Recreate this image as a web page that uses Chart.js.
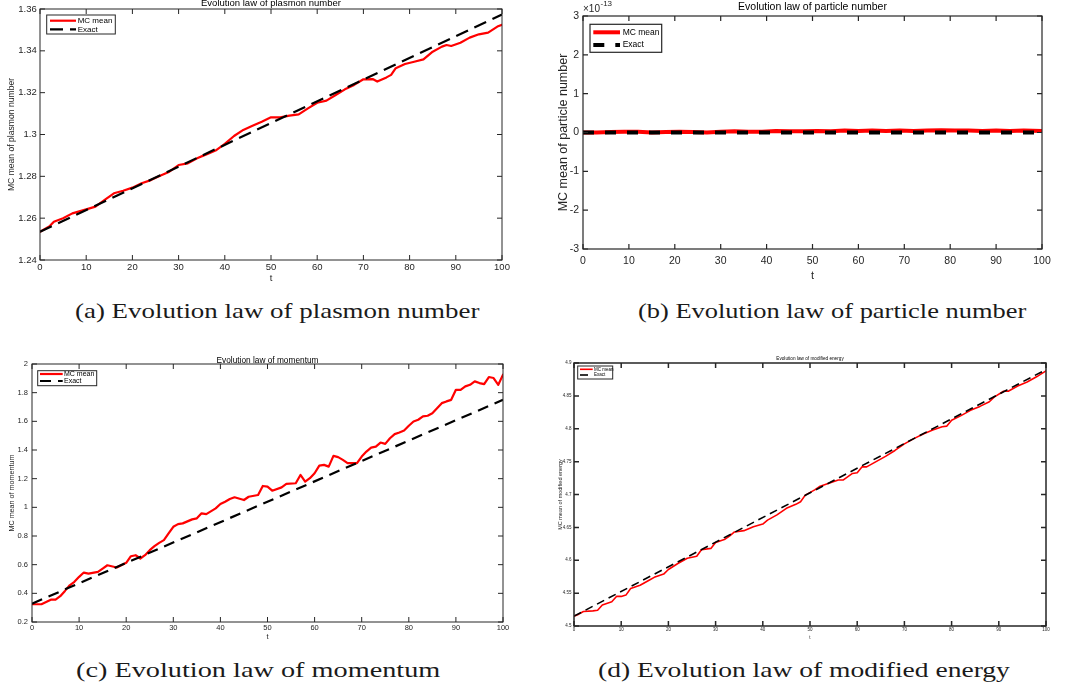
<!DOCTYPE html>
<html><head><meta charset="utf-8">
<script src="https://cdn.jsdelivr.net/npm/chart.js@4.4.1/dist/chart.umd.min.js"></script>
<style>
html,body{margin:0;padding:0;background:#fff;width:1072px;height:691px;overflow:hidden;position:relative}
canvas{position:absolute}
.cap{position:absolute;white-space:nowrap;font-family:'Liberation Serif','DejaVu Serif',serif;font-size:22px;line-height:22px;color:#1a1a1a;transform-origin:0 50%}
</style></head><body>
<canvas id="ca" width="530" height="290" style="left:0px;top:0px"></canvas>
<canvas id="cb" width="542" height="290" style="left:530px;top:0px"></canvas>
<canvas id="cc" width="530" height="315" style="left:0px;top:330px"></canvas>
<canvas id="cd" width="542" height="315" style="left:530px;top:330px"></canvas>
<div class="cap" id="capA">(a) Evolution law of plasmon number</div>
<div class="cap" id="capB">(b) Evolution law of particle number</div>
<div class="cap" id="capC">(c) Evolution law of momentum</div>
<div class="cap" id="capD">(d) Evolution law of modified energy</div>
<script>
// ---------------- data ----------------
const xTicks = [0,10,20,30,40,50,60,70,80,90,100];

const plasmonT  = [0,2,3,5,7,10,12,14,16,18,20,22,24,26,28,30,32,34,36,38,40,42,44,46,48,50,52,54,56,58,60,62,64,66,68,70,72,73,75,76,77,79,81,83,85,87,88,89,91,93,95,97,99,100];
const plasmonMC = [1.2535,1.2560,1.2583,1.2600,1.2623,1.2642,1.2655,1.2687,1.2719,1.2731,1.2746,1.2767,1.2782,1.2803,1.2822,1.2854,1.2862,1.2886,1.2905,1.2923,1.2955,1.2993,1.3022,1.3042,1.3061,1.3082,1.3082,1.3090,1.3096,1.3125,1.3152,1.3162,1.3189,1.3216,1.3237,1.3264,1.3265,1.3253,1.3273,1.3285,1.3317,1.3337,1.3348,1.3359,1.3396,1.3420,1.3428,1.3423,1.3439,1.3463,1.3479,1.3487,1.3516,1.3524];
const plasmonExactT = [0,100];
const plasmonExact  = [1.2535,1.3574];
const plasmonYTicks = [1.24,1.26,1.28,1.3,1.32,1.34,1.36];

// particle number values are in units of 1e-13 (axis shows x10^-13)
const particleT  = [0,3,6,9,12,15,18,21,24,27,30,33,36,39,42,45,48,51,54,57,60,63,66,69,72,75,78,81,84,87,90,93,96,100];
const particleMC = [0.00,0.00,0.01,0.02,0.02,0.00,0.01,0.02,0.01,0.00,0.02,0.03,0.02,0.02,0.04,0.03,0.03,0.04,0.03,0.05,0.04,0.05,0.04,0.05,0.04,0.05,0.06,0.05,0.05,0.04,0.05,0.04,0.05,0.04];
const particleExactT = [0,100];
const particleExact  = [0,0];
const particleYTicks = [-3,-2,-1,0,1,2,3];

const momT  = [0,2,3,4,5,6,7,8,9,10,11,12,14,15,16,18,20,21,22,23,24,25,26,27,28,29,30,31,32,34,35,36,37,39,40,41,42,43,45,46,48,49,50,51,53,54,56,57,58,59,60,61,62,63,64,65,66,67,69,70,71,72,73,74,75,76,77,78,79,80,81,82,83,84,85,86,87,88,89,90,91,92,93,94,95,96,97,98,99,100];
const momMC = [0.324,0.324,0.34,0.356,0.356,0.38,0.417,0.456,0.48,0.515,0.545,0.538,0.55,0.573,0.596,0.58,0.613,0.659,0.666,0.643,0.666,0.701,0.729,0.752,0.771,0.818,0.864,0.883,0.888,0.916,0.923,0.958,0.953,0.993,1.023,1.039,1.058,1.07,1.051,1.074,1.086,1.149,1.144,1.116,1.139,1.163,1.168,1.226,1.179,1.203,1.238,1.291,1.296,1.284,1.359,1.35,1.331,1.308,1.308,1.354,1.389,1.417,1.424,1.452,1.443,1.482,1.511,1.522,1.536,1.569,1.599,1.611,1.634,1.639,1.657,1.692,1.727,1.739,1.75,1.82,1.82,1.844,1.855,1.879,1.867,1.86,1.909,1.902,1.855,1.925];
const momExactT = [0,100];
const momExact  = [0.328,1.750];
const momYTicks = [0.2,0.4,0.6,0.8,1,1.2,1.4,1.6,1.8,2];

const enT  = [0,1,2,4,5,6,8,9,10,11,12,14,16,17,19,20,22,24,26,27,29,30,32,33,34,36,38,40,41,43,45,47,48,49,51,52,54,56,57,59,60,61,62,64,66,68,70,72,74,76,78,79,80,82,84,86,88,89,91,92,94,96,98,100];
const enMC = [4.515,4.518,4.522,4.523,4.524,4.532,4.537,4.545,4.545,4.547,4.557,4.562,4.57,4.574,4.579,4.586,4.595,4.603,4.606,4.616,4.618,4.627,4.632,4.637,4.643,4.645,4.651,4.655,4.661,4.669,4.679,4.685,4.689,4.699,4.707,4.712,4.717,4.722,4.722,4.732,4.733,4.742,4.742,4.75,4.758,4.767,4.777,4.785,4.792,4.798,4.803,4.804,4.813,4.82,4.828,4.834,4.841,4.848,4.857,4.857,4.865,4.871,4.879,4.888];
const enExactT = [0,100];
const enExact  = [4.515,4.890];
const enYTicks = [4.5,4.55,4.6,4.65,4.7,4.75,4.8,4.85,4.9];

const seriesLabels = ['MC mean','Exact'];
const titles = ['Evolution law of plasmon number','Evolution law of particle number','Evolution law of momentum','Evolution law of modified energy'];
const yTitles = ['MC mean of plasmon number','MC mean of particle number','MC mean of momentum','MC mean of modified energy'];

// ---------------- helpers ----------------
const FONT = "'Liberation Sans', Arial, Helvetica, sans-serif";
const INK = '#262626';
const pts = (t, v) => t.map((x, i) => ({x: x, y: v[i]}));
const fmt = v => String(+(+v).toFixed(6));

const matlabAxes = {
  id: 'matlabAxes',
  afterDraw(chart, args, o) {
    const {ctx, chartArea: a, scales: {x, y}} = chart;
    ctx.save();
    ctx.strokeStyle = INK; ctx.lineWidth = o.lw; ctx.setLineDash([]);
    ctx.beginPath();
    x.ticks.forEach(t => { const p = x.getPixelForValue(t.value);
      ctx.moveTo(p, a.bottom); ctx.lineTo(p, a.bottom - o.len);
      ctx.moveTo(p, a.top); ctx.lineTo(p, a.top + o.len); });
    y.ticks.forEach(t => { const p = y.getPixelForValue(t.value);
      ctx.moveTo(a.left, p); ctx.lineTo(a.left + o.len, p);
      ctx.moveTo(a.right, p); ctx.lineTo(a.right - o.len, p); });
    ctx.stroke();
    ctx.strokeRect(a.left, a.top, a.right - a.left, a.bottom - a.top);
    // title
    ctx.fillStyle = '#000'; ctx.textAlign = 'center'; ctx.textBaseline = 'middle';
    ctx.font = o.titleSize + 'px ' + FONT;
    ctx.fillText(o.title, (a.left + a.right) / 2, a.top - o.titleDy);
    // exponent
    if (o.exp) {
      ctx.fillStyle = INK; ctx.textAlign = 'left';
      ctx.font = o.exp.size + 'px ' + FONT;
      ctx.fillText('\u00d710', a.left + o.exp.dx, o.exp.y);
      const w = ctx.measureText('\u00d710').width;
      ctx.font = o.exp.supSize + 'px ' + FONT;
      ctx.fillText(o.exp.text, a.left + o.exp.dx + w + 0.5, o.exp.supY);
    }
    // legend (boxed, inside top-left)
    const L = o.legend;
    const bx = a.left + L.dx, by = a.top + L.dy;
    ctx.fillStyle = '#fff'; ctx.fillRect(bx, by, L.w, L.h);
    ctx.strokeStyle = INK; ctx.lineWidth = L.frame; ctx.strokeRect(bx, by, L.w, L.h);
    chart.data.datasets.forEach((ds, i) => {
      const ry = by + L.rows[i];
      ctx.beginPath();
      ctx.strokeStyle = ds.borderColor; ctx.lineWidth = ds.borderWidth;
      ctx.setLineDash(ds.borderDash || []);
      ctx.moveTo(bx + L.s0, ry); ctx.lineTo(bx + L.s1, ry); ctx.stroke();
      ctx.setLineDash([]);
      ctx.fillStyle = '#000'; ctx.textAlign = 'left'; ctx.textBaseline = 'middle';
      ctx.font = L.size + 'px ' + FONT;
      ctx.fillText(ds.label, bx + L.tx, ry);
    });
    ctx.restore();
  }
};

function build(id, p) {
  return new Chart(document.getElementById(id), {
    type: 'line',
    data: { datasets: [
      { label: seriesLabels[0], data: pts(p.mcT, p.mc), borderColor: '#ff0000', borderWidth: p.lwRed,
        pointRadius: 0, tension: 0, borderJoinStyle: 'round', borderCapStyle: 'round', order: 1 },
      { label: seriesLabels[1], data: pts(p.exT, p.ex), borderColor: '#000000', borderWidth: p.lwBlack,
        borderDash: p.dash, pointRadius: 0, tension: 0, order: 0 }
    ]},
    options: {
      responsive: false, animation: false, devicePixelRatio: 1,
      layout: { padding: { top: p.padTop, right: p.padRight, left: 0, bottom: 0 } },
      plugins: { legend: { display: false }, tooltip: { enabled: false }, title: { display: false },
        matlabAxes: p.axes },
      scales: {
        x: { type: 'linear', min: 0, max: 100,
          afterBuildTicks: s => { s.ticks = xTicks.map(v => ({value: v})); },
          afterFit: s => { s.height = p.xH; },
          grid: { display: false, drawTicks: false }, border: { display: false },
          ticks: { autoSkip: false, maxRotation: 0, padding: p.xPad, color: INK,
            font: { family: FONT, size: p.tick }, callback: v => fmt(v) },
          title: { display: true, text: 't', color: INK, font: { family: FONT, size: p.xTitle },
            padding: { top: 0, bottom: p.xTitlePad } } },
        y: { type: 'linear', min: p.yT[0], max: p.yT[p.yT.length - 1],
          afterBuildTicks: s => { s.ticks = p.yT.map(v => ({value: v})); },
          afterFit: s => { s.width = p.yW; },
          grid: { display: false, drawTicks: false }, border: { display: false },
          ticks: { autoSkip: false, padding: p.yPad, color: INK,
            font: { family: FONT, size: p.tick }, callback: v => fmt(v) },
          title: { display: true, text: p.yTitleText, color: INK, font: { family: FONT, size: p.yTitle },
            padding: { top: p.yTitlePad, bottom: 0 } } }
      }
    },
    plugins: [matlabAxes]
  });
}

build('ca', { mcT: plasmonT, mc: plasmonMC, exT: plasmonExactT, ex: plasmonExact, yT: plasmonYTicks,
  lwRed: 2.2, lwBlack: 2.2, dash: [13, 7],
  padTop: 9, padRight: 28, yW: 40, xH: 30, tick: 9.5, xPad: 1.3, yPad: 3.3,
  xTitle: 9.5, xTitlePad: 6.3, yTitle: 8.6, yTitlePad: 6.5, yTitleText: yTitles[0],
  axes: { lw: 1, len: 5, title: titles[0], titleSize: 9.5, titleDy: 6,
    legend: { dx: 6.7, dy: 6, w: 68.6, h: 19, rows: [5.7, 14.3], s0: 3.3, s1: 29.3, tx: 31, size: 8, frame: 1 } } });

build('cb', { mcT: particleT, mc: particleMC, exT: particleExactT, ex: particleExact, yT: particleYTicks,
  lwRed: 4, lwBlack: 4, dash: [11, 11],
  padTop: 16, padRight: 30, yW: 53, xH: 41, tick: 10.5, xPad: 5.7, yPad: 4,
  xTitle: 11, xTitlePad: 7.4, yTitle: 12.5, yTitlePad: 25.8, yTitleText: yTitles[1],
  axes: { lw: 1.2, len: 5, title: titles[1], titleSize: 10.5, titleDy: 9,
    exp: { dx: 0, y: 9, size: 10, text: '-13', supSize: 8, supY: 4 },
    legend: { dx: 7, dy: 8.3, w: 71.7, h: 28, rows: [8, 20.7], s0: 3.3, s1: 30, tx: 32.7, size: 8.5, frame: 1.2 } } });

build('cc', { mcT: momT, mc: momMC, exT: momExactT, ex: momExact, yT: momYTicks,
  lwRed: 2.2, lwBlack: 2.2, dash: [11, 7],
  padTop: 34, padRight: 27, yW: 32, xH: 23, tick: 7.5, xPad: 1.2, yPad: 4,
  xTitle: 7.5, xTitlePad: 3.8, yTitle: 7.2, yTitlePad: 7.4, yTitleText: yTitles[2],
  axes: { lw: 1, len: 5, title: titles[2], titleSize: 8.3, titleDy: 3.3,
    legend: { dx: 5.7, dy: 6.7, w: 59, h: 15, rows: [3.3, 10.3], s0: 2.3, s1: 25, tx: 26.3, size: 7, frame: 1 } } });

build('cd', { mcT: enT, mc: enMC, exT: enExactT, ex: enExact, yT: enYTicks,
  lwRed: 1.6, lwBlack: 1.6, dash: [8, 5],
  padTop: 33, padRight: 26, yW: 44, xH: 19, tick: 4.5, xPad: 1.3, yPad: 2.5,
  xTitle: 4.5, xTitlePad: 5, yTitle: 5.5, yTitlePad: 27.4, yTitleText: yTitles[3],
  axes: { lw: 1.5, len: 5, title: titles[3], titleSize: 4.7, titleDy: 4,
    legend: { dx: 3.7, dy: 3, w: 35, h: 13, rows: [3.3, 9], s0: 2.3, s1: 15, tx: 16.3, size: 4.5, frame: 1 } } });

// ---------------- captions ----------------
const caps = [['capA', 75, 405, 312], ['capB', 638, 388, 312], ['capC', 76, 365, 671], ['capD', 598, 412, 671]];
caps.forEach(([id, left, width, cy]) => {
  const el = document.getElementById(id);
  const w = el.offsetWidth;
  el.style.left = left + 'px';
  el.style.top = (cy - 12) + 'px';
  el.style.transform = 'scaleX(' + (width / w) + ')';
});
</script>
</body></html>
